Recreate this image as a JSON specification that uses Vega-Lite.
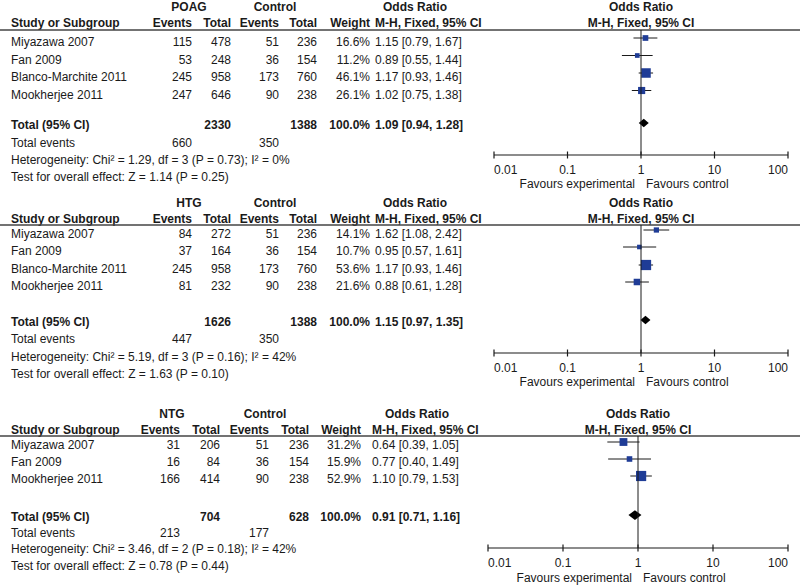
{
  "$schema": "https://vega.github.io/schema/vega-lite/v6.json",
  "width": 800,
  "height": 586,
  "autosize": {"type": "none"},
  "padding": 0,
  "background": "white",
  "config": {
    "view": {"stroke": null},
    "axis": {"disable": true},
    "text": {"font": "Liberation Sans", "fontSize": 12, "color": "#1a1a1a", "baseline": "middle"}
  },
  "datasets": {
    "rows": [
      {"panel": "POAG", "kind": "study", "line": 3, "label": "Miyazawa 2007", "e1": 115, "n1": 478, "e2": 51, "n2": 236, "w": 0.166, "or": 1.15, "lo": 0.79, "hi": 1.67, "ci": "1.15 [0.79, 1.67]"},
      {"panel": "POAG", "kind": "study", "line": 4, "label": "Fan 2009", "e1": 53, "n1": 248, "e2": 36, "n2": 154, "w": 0.112, "or": 0.89, "lo": 0.55, "hi": 1.44, "ci": "0.89 [0.55, 1.44]"},
      {"panel": "POAG", "kind": "study", "line": 5, "label": "Blanco-Marchite 2011", "e1": 245, "n1": 958, "e2": 173, "n2": 760, "w": 0.461, "or": 1.17, "lo": 0.93, "hi": 1.46, "ci": "1.17 [0.93, 1.46]"},
      {"panel": "POAG", "kind": "study", "line": 6, "label": "Mookherjee 2011", "e1": 247, "n1": 646, "e2": 90, "n2": 238, "w": 0.261, "or": 1.02, "lo": 0.75, "hi": 1.38, "ci": "1.02 [0.75, 1.38]"},
      {"panel": "POAG", "kind": "total", "line": 7, "label": "Total (95% CI)", "n1": 2330, "n2": 1388, "w": 1.0, "or": 1.09, "lo": 0.94, "hi": 1.28, "ci": "1.09 [0.94, 1.28]"},
      {"panel": "POAG", "kind": "events", "line": 8, "label": "Total events", "e1": 660, "e2": 350},
      {"panel": "POAG", "kind": "het", "line": 10, "label": "Heterogeneity: Chi² = 1.29, df = 3 (P = 0.73); I² = 0%"},
      {"panel": "POAG", "kind": "test", "line": 12, "label": "Test for overall effect: Z = 1.14 (P = 0.25)"},
      {"panel": "HTG", "kind": "study", "line": 17, "label": "Miyazawa 2007", "e1": 84, "n1": 272, "e2": 51, "n2": 236, "w": 0.141, "or": 1.62, "lo": 1.08, "hi": 2.42, "ci": "1.62 [1.08, 2.42]"},
      {"panel": "HTG", "kind": "study", "line": 18, "label": "Fan 2009", "e1": 37, "n1": 164, "e2": 36, "n2": 154, "w": 0.107, "or": 0.95, "lo": 0.57, "hi": 1.61, "ci": "0.95 [0.57, 1.61]"},
      {"panel": "HTG", "kind": "study", "line": 19, "label": "Blanco-Marchite 2011", "e1": 245, "n1": 958, "e2": 173, "n2": 760, "w": 0.536, "or": 1.17, "lo": 0.93, "hi": 1.46, "ci": "1.17 [0.93, 1.46]"},
      {"panel": "HTG", "kind": "study", "line": 20, "label": "Mookherjee 2011", "e1": 81, "n1": 232, "e2": 90, "n2": 238, "w": 0.216, "or": 0.88, "lo": 0.61, "hi": 1.28, "ci": "0.88 [0.61, 1.28]"},
      {"panel": "HTG", "kind": "total", "line": 21, "label": "Total (95% CI)", "n1": 1626, "n2": 1388, "w": 1.0, "or": 1.15, "lo": 0.97, "hi": 1.35, "ci": "1.15 [0.97, 1.35]"},
      {"panel": "HTG", "kind": "events", "line": 22, "label": "Total events", "e1": 447, "e2": 350},
      {"panel": "HTG", "kind": "het", "line": 24, "label": "Heterogeneity: Chi² = 5.19, df = 3 (P = 0.16); I² = 42%"},
      {"panel": "HTG", "kind": "test", "line": 26, "label": "Test for overall effect: Z = 1.63 (P = 0.10)"},
      {"panel": "NTG", "kind": "study", "line": 31, "label": "Miyazawa 2007", "e1": 31, "n1": 206, "e2": 51, "n2": 236, "w": 0.312, "or": 0.64, "lo": 0.39, "hi": 1.05, "ci": "0.64 [0.39, 1.05]"},
      {"panel": "NTG", "kind": "study", "line": 32, "label": "Fan 2009", "e1": 16, "n1": 84, "e2": 36, "n2": 154, "w": 0.159, "or": 0.77, "lo": 0.40, "hi": 1.49, "ci": "0.77 [0.40, 1.49]"},
      {"panel": "NTG", "kind": "study", "line": 33, "label": "Mookherjee 2011", "e1": 166, "n1": 414, "e2": 90, "n2": 238, "w": 0.529, "or": 1.10, "lo": 0.79, "hi": 1.53, "ci": "1.10 [0.79, 1.53]"},
      {"panel": "NTG", "kind": "total", "line": 34, "label": "Total (95% CI)", "n1": 704, "n2": 628, "w": 1.0, "or": 0.91, "lo": 0.71, "hi": 1.16, "ci": "0.91 [0.71, 1.16]"},
      {"panel": "NTG", "kind": "events", "line": 35, "label": "Total events", "e1": 213, "e2": 177},
      {"panel": "NTG", "kind": "het", "line": 37, "label": "Heterogeneity: Chi² = 3.46, df = 2 (P = 0.18); I² = 42%"},
      {"panel": "NTG", "kind": "test", "line": 39, "label": "Test for overall effect: Z = 0.78 (P = 0.44)"}
    ],
    "headers": [
      {"panel": "POAG", "line": 0, "col": 1, "label": "POAG"},
      {"panel": "POAG", "line": 0, "col": 4, "label": "Control"},
      {"panel": "POAG", "line": 0, "col": 9, "label": "Odds Ratio"},
      {"panel": "POAG", "line": 0, "col": 10, "label": "Odds Ratio"},
      {"panel": "POAG", "line": 1, "col": 0, "label": "Study or Subgroup"},
      {"panel": "POAG", "line": 1, "col": 2, "label": "Events"},
      {"panel": "POAG", "line": 1, "col": 3, "label": "Total"},
      {"panel": "POAG", "line": 1, "col": 5, "label": "Events"},
      {"panel": "POAG", "line": 1, "col": 6, "label": "Total"},
      {"panel": "POAG", "line": 1, "col": 7, "label": "Weight"},
      {"panel": "POAG", "line": 1, "col": 8, "label": "M-H, Fixed, 95% CI"},
      {"panel": "POAG", "line": 1, "col": 10, "label": "M-H, Fixed, 95% CI"},
      {"panel": "HTG", "line": 14, "col": 1, "label": "HTG"},
      {"panel": "HTG", "line": 14, "col": 4, "label": "Control"},
      {"panel": "HTG", "line": 14, "col": 9, "label": "Odds Ratio"},
      {"panel": "HTG", "line": 14, "col": 10, "label": "Odds Ratio"},
      {"panel": "HTG", "line": 15, "col": 0, "label": "Study or Subgroup"},
      {"panel": "HTG", "line": 15, "col": 2, "label": "Events"},
      {"panel": "HTG", "line": 15, "col": 3, "label": "Total"},
      {"panel": "HTG", "line": 15, "col": 5, "label": "Events"},
      {"panel": "HTG", "line": 15, "col": 6, "label": "Total"},
      {"panel": "HTG", "line": 15, "col": 7, "label": "Weight"},
      {"panel": "HTG", "line": 15, "col": 8, "label": "M-H, Fixed, 95% CI"},
      {"panel": "HTG", "line": 15, "col": 10, "label": "M-H, Fixed, 95% CI"},
      {"panel": "NTG", "line": 28, "col": 1, "label": "NTG"},
      {"panel": "NTG", "line": 28, "col": 4, "label": "Control"},
      {"panel": "NTG", "line": 28, "col": 9, "label": "Odds Ratio"},
      {"panel": "NTG", "line": 28, "col": 10, "label": "Odds Ratio"},
      {"panel": "NTG", "line": 29, "col": 0, "label": "Study or Subgroup"},
      {"panel": "NTG", "line": 29, "col": 2, "label": "Events"},
      {"panel": "NTG", "line": 29, "col": 3, "label": "Total"},
      {"panel": "NTG", "line": 29, "col": 5, "label": "Events"},
      {"panel": "NTG", "line": 29, "col": 6, "label": "Total"},
      {"panel": "NTG", "line": 29, "col": 7, "label": "Weight"},
      {"panel": "NTG", "line": 29, "col": 8, "label": "M-H, Fixed, 95% CI"},
      {"panel": "NTG", "line": 29, "col": 10, "label": "M-H, Fixed, 95% CI"}
    ],
    "ticks": [
      {"v": 0.01, "label": "0.01"},
      {"v": 0.1, "label": "0.1"},
      {"v": 1, "label": "1"},
      {"v": 10, "label": "10"},
      {"v": 100, "label": "100"}
    ]
  },
  "resolve": {"scale": {"x": "independent"}},
  "layer": [
    {
      "data": {"name": "rows"},
      "transform": [{"filter": "datum.panel != 'NTG'"}],
      "mark": {"type": "text", "align": "left", "fontWeight": {"expr": "datum.kind == 'total' ? 'bold' : 'normal'"}},
      "encoding": {
        "x": {"datum": 0, "type": "quantitative", "scale": {"type": "linear", "domain": [0,1,2,3,4,5,6,7,8,9], "range": [11,189,192,231,275,279,317,370,375,415], "zero": false, "nice": false}},
        "y": {"field": "line", "type": "quantitative", "axis": null, "scale": {"type": "linear", "zero": false, "nice": false, "domain": [0,1,2,3,4,5,6,7,8,9,10,11,12,13,14,15,16,17,18,19,20,21,22,23,24,25,26,27,28,29,30,31,32,33,34,35,36,37,38,39,40], "range": [7,23,30,42,59.5,77,94.5,125,143,155,160,170,177,184,203,219,225,234,251,269,286,322,339,353,357,368,374,382,414,430,436,445,462,479,517,533,548,549,563,566,578]}},
        "text": {"field": "label"}
      }
    },
    {
      "data": {"name": "rows"},
      "transform": [{"filter": "datum.panel != 'NTG' && isValid(datum.e1)"}],
      "mark": {"type": "text", "align": "right"},
      "encoding": {
        "x": {"datum": 2, "type": "quantitative", "scale": {"type": "linear", "domain": [0,1,2,3,4,5,6,7,8,9], "range": [11,189,192,231,275,279,317,370,375,415], "zero": false, "nice": false}},
        "y": {"field": "line", "type": "quantitative"},
        "text": {"field": "e1", "type": "quantitative", "format": "d"}
      }
    },
    {
      "data": {"name": "rows"},
      "transform": [{"filter": "datum.panel != 'NTG' && isValid(datum.n1)"}],
      "mark": {"type": "text", "align": "right", "fontWeight": {"expr": "datum.kind == 'total' ? 'bold' : 'normal'"}},
      "encoding": {
        "x": {"datum": 3, "type": "quantitative", "scale": {"type": "linear", "domain": [0,1,2,3,4,5,6,7,8,9], "range": [11,189,192,231,275,279,317,370,375,415], "zero": false, "nice": false}},
        "y": {"field": "line", "type": "quantitative"},
        "text": {"field": "n1", "type": "quantitative", "format": "d"}
      }
    },
    {
      "data": {"name": "rows"},
      "transform": [{"filter": "datum.panel != 'NTG' && isValid(datum.e2)"}],
      "mark": {"type": "text", "align": "right"},
      "encoding": {
        "x": {"datum": 5, "type": "quantitative", "scale": {"type": "linear", "domain": [0,1,2,3,4,5,6,7,8,9], "range": [11,189,192,231,275,279,317,370,375,415], "zero": false, "nice": false}},
        "y": {"field": "line", "type": "quantitative"},
        "text": {"field": "e2", "type": "quantitative", "format": "d"}
      }
    },
    {
      "data": {"name": "rows"},
      "transform": [{"filter": "datum.panel != 'NTG' && isValid(datum.n2)"}],
      "mark": {"type": "text", "align": "right", "fontWeight": {"expr": "datum.kind == 'total' ? 'bold' : 'normal'"}},
      "encoding": {
        "x": {"datum": 6, "type": "quantitative", "scale": {"type": "linear", "domain": [0,1,2,3,4,5,6,7,8,9], "range": [11,189,192,231,275,279,317,370,375,415], "zero": false, "nice": false}},
        "y": {"field": "line", "type": "quantitative"},
        "text": {"field": "n2", "type": "quantitative", "format": "d"}
      }
    },
    {
      "data": {"name": "rows"},
      "transform": [{"filter": "datum.panel != 'NTG' && isValid(datum.w)"}],
      "mark": {"type": "text", "align": "right", "fontWeight": {"expr": "datum.kind == 'total' ? 'bold' : 'normal'"}},
      "encoding": {
        "x": {"datum": 7, "type": "quantitative", "scale": {"type": "linear", "domain": [0,1,2,3,4,5,6,7,8,9], "range": [11,189,192,231,275,279,317,370,375,415], "zero": false, "nice": false}},
        "y": {"field": "line", "type": "quantitative"},
        "text": {"field": "w", "type": "quantitative", "format": ".1%"}
      }
    },
    {
      "data": {"name": "rows"},
      "transform": [{"filter": "datum.panel != 'NTG' && isValid(datum.ci)"}],
      "mark": {"type": "text", "align": "left", "fontWeight": {"expr": "datum.kind == 'total' ? 'bold' : 'normal'"}},
      "encoding": {
        "x": {"datum": 8, "type": "quantitative", "scale": {"type": "linear", "domain": [0,1,2,3,4,5,6,7,8,9], "range": [11,189,192,231,275,279,317,370,375,415], "zero": false, "nice": false}},
        "y": {"field": "line", "type": "quantitative"},
        "text": {"field": "ci"}
      }
    },
    {
      "data": {"name": "headers"},
      "transform": [{"filter": "datum.panel != 'NTG' && datum.col < 10"}],
      "mark": {"type": "text", "fontWeight": "bold", "align": {"expr": "(datum.col == 0 || datum.col == 8) ? 'left' : (datum.col == 1 || datum.col == 4 || datum.col == 9) ? 'center' : 'right'"}},
      "encoding": {
        "x": {"field": "col", "type": "quantitative", "scale": {"type": "linear", "domain": [0,1,2,3,4,5,6,7,8,9], "range": [11,189,192,231,275,279,317,370,375,415], "zero": false, "nice": false}},
        "y": {"field": "line", "type": "quantitative"},
        "text": {"field": "label"}
      }
    },
    {
      "data": {"name": "headers"},
      "transform": [{"filter": "datum.panel != 'NTG' && datum.col == 10"}],
      "mark": {"type": "text", "fontWeight": "bold", "align": "center"},
      "encoding": {
        "x": {"datum": 1, "type": "quantitative", "scale": {"type": "log", "domain": [0.01, 100], "range": [494, 788]}},
        "y": {"field": "line", "type": "quantitative"},
        "text": {"field": "label"}
      }
    },
    {
      "data": {"name": "rows"},
      "transform": [{"filter": "datum.panel != 'NTG' && datum.kind == 'study'"}],
      "mark": {"type": "rule", "color": "#1a1a1a", "strokeWidth": 1, "yOffset": -4},
      "encoding": {
        "x": {"field": "lo", "type": "quantitative", "scale": {"type": "log", "domain": [0.01, 100], "range": [494, 788]}},
        "x2": {"field": "hi"},
        "y": {"field": "line", "type": "quantitative"}
      }
    },
    {
      "data": {"name": "rows"},
      "transform": [{"filter": "datum.panel != 'NTG' && datum.kind == 'study'"}],
      "mark": {"type": "point", "shape": "square", "filled": true, "color": "#1f3c96", "opacity": 1, "yOffset": -4},
      "encoding": {
        "x": {"field": "or", "type": "quantitative", "scale": {"type": "log", "domain": [0.01, 100], "range": [494, 788]}},
        "y": {"field": "line", "type": "quantitative"},
        "size": {"field": "w", "type": "quantitative", "scale": {"type": "linear", "domain": [0, 1], "range": [0, 196]}, "legend": null}
      }
    },
    {
      "data": {"name": "rows"},
      "transform": [{"filter": "datum.panel != 'NTG' && datum.kind == 'total'"}],
      "mark": {"type": "point", "shape": "M-1,0L0,-0.85L1,0L0,0.85Z", "filled": true, "color": "#000000", "opacity": 1, "size": 100, "yOffset": -2},
      "encoding": {
        "x": {"field": "or", "type": "quantitative", "scale": {"type": "log", "domain": [0.01, 100], "range": [494, 788]}},
        "y": {"field": "line", "type": "quantitative"}
      }
    },
    {
      "data": {"values": [{}]},
      "mark": {"type": "rule", "color": "#444444", "strokeWidth": 1.5},
      "encoding": {"y": {"datum": 2, "type": "quantitative"}}
    },
    {
      "data": {"values": [{}]},
      "mark": {"type": "rule", "color": "#1a1a1a", "strokeWidth": 1},
      "encoding": {
        "x": {"datum": 1, "type": "quantitative", "scale": {"type": "log", "domain": [0.01, 100], "range": [494, 788]}},
        "y": {"datum": 2, "type": "quantitative"},
        "y2": {"datum": 9}
      }
    },
    {
      "data": {"values": [{}]},
      "mark": {"type": "rule", "color": "#1a1a1a", "strokeWidth": 1.2},
      "encoding": {
        "x": {"datum": 0.01, "type": "quantitative", "scale": {"type": "log", "domain": [0.01, 100], "range": [494, 788]}},
        "x2": {"datum": 100},
        "y": {"datum": 9, "type": "quantitative"}
      }
    },
    {
      "data": {"name": "ticks"},
      "mark": {"type": "point", "shape": "M0,-1L0,1", "filled": false, "color": "#1a1a1a", "strokeWidth": 1.2, "size": 49, "opacity": 1},
      "encoding": {
        "x": {"field": "v", "type": "quantitative", "scale": {"type": "log", "domain": [0.01, 100], "range": [494, 788]}},
        "y": {"datum": 9, "type": "quantitative"}
      }
    },
    {
      "data": {"name": "ticks"},
      "mark": {"type": "text", "align": {"expr": "datum.v == 0.01 ? 'left' : datum.v == 100 ? 'right' : 'center'"}},
      "encoding": {
        "x": {"field": "v", "type": "quantitative", "scale": {"type": "log", "domain": [0.01, 100], "range": [494, 788]}},
        "y": {"datum": 11, "type": "quantitative"},
        "text": {"field": "label"}
      }
    },
    {
      "data": {"values": [{}]},
      "mark": {"type": "text", "align": "right", "dx": -6},
      "encoding": {
        "x": {"datum": 1, "type": "quantitative", "scale": {"type": "log", "domain": [0.01, 100], "range": [494, 788]}},
        "y": {"datum": 13, "type": "quantitative"},
        "text": {"value": "Favours experimental"}
      }
    },
    {
      "data": {"values": [{}]},
      "mark": {"type": "text", "align": "left", "dx": 5},
      "encoding": {
        "x": {"datum": 1, "type": "quantitative", "scale": {"type": "log", "domain": [0.01, 100], "range": [494, 788]}},
        "y": {"datum": 13, "type": "quantitative"},
        "text": {"value": "Favours control"}
      }
    },
    {
      "data": {"values": [{}]},
      "mark": {"type": "rule", "color": "#444444", "strokeWidth": 1.5},
      "encoding": {"y": {"datum": 16, "type": "quantitative"}}
    },
    {
      "data": {"values": [{}]},
      "mark": {"type": "rule", "color": "#1a1a1a", "strokeWidth": 1},
      "encoding": {
        "x": {"datum": 1, "type": "quantitative", "scale": {"type": "log", "domain": [0.01, 100], "range": [494, 788]}},
        "y": {"datum": 16, "type": "quantitative"},
        "y2": {"datum": 23}
      }
    },
    {
      "data": {"values": [{}]},
      "mark": {"type": "rule", "color": "#1a1a1a", "strokeWidth": 1.2},
      "encoding": {
        "x": {"datum": 0.01, "type": "quantitative", "scale": {"type": "log", "domain": [0.01, 100], "range": [494, 788]}},
        "x2": {"datum": 100},
        "y": {"datum": 23, "type": "quantitative"}
      }
    },
    {
      "data": {"name": "ticks"},
      "mark": {"type": "point", "shape": "M0,-1L0,1", "filled": false, "color": "#1a1a1a", "strokeWidth": 1.2, "size": 49, "opacity": 1},
      "encoding": {
        "x": {"field": "v", "type": "quantitative", "scale": {"type": "log", "domain": [0.01, 100], "range": [494, 788]}},
        "y": {"datum": 23, "type": "quantitative"}
      }
    },
    {
      "data": {"name": "ticks"},
      "mark": {"type": "text", "align": {"expr": "datum.v == 0.01 ? 'left' : datum.v == 100 ? 'right' : 'center'"}},
      "encoding": {
        "x": {"field": "v", "type": "quantitative", "scale": {"type": "log", "domain": [0.01, 100], "range": [494, 788]}},
        "y": {"datum": 25, "type": "quantitative"},
        "text": {"field": "label"}
      }
    },
    {
      "data": {"values": [{}]},
      "mark": {"type": "text", "align": "right", "dx": -6},
      "encoding": {
        "x": {"datum": 1, "type": "quantitative", "scale": {"type": "log", "domain": [0.01, 100], "range": [494, 788]}},
        "y": {"datum": 27, "type": "quantitative"},
        "text": {"value": "Favours experimental"}
      }
    },
    {
      "data": {"values": [{}]},
      "mark": {"type": "text", "align": "left", "dx": 5},
      "encoding": {
        "x": {"datum": 1, "type": "quantitative", "scale": {"type": "log", "domain": [0.01, 100], "range": [494, 788]}},
        "y": {"datum": 27, "type": "quantitative"},
        "text": {"value": "Favours control"}
      }
    },
    {
      "data": {"name": "rows"},
      "transform": [{"filter": "datum.panel == 'NTG'"}],
      "mark": {"type": "text", "align": "left", "fontWeight": {"expr": "datum.kind == 'total' ? 'bold' : 'normal'"}},
      "encoding": {
        "x": {"datum": 0, "type": "quantitative", "scale": {"type": "linear", "domain": [0,1,2,3,4,5,6,7,8,9], "range": [11,172,180,220,265,269,309,361,372,417], "zero": false, "nice": false}},
        "y": {"field": "line", "type": "quantitative"},
        "text": {"field": "label"}
      }
    },
    {
      "data": {"name": "rows"},
      "transform": [{"filter": "datum.panel == 'NTG' && isValid(datum.e1)"}],
      "mark": {"type": "text", "align": "right"},
      "encoding": {
        "x": {"datum": 2, "type": "quantitative", "scale": {"type": "linear", "domain": [0,1,2,3,4,5,6,7,8,9], "range": [11,172,180,220,265,269,309,361,372,417], "zero": false, "nice": false}},
        "y": {"field": "line", "type": "quantitative"},
        "text": {"field": "e1", "type": "quantitative", "format": "d"}
      }
    },
    {
      "data": {"name": "rows"},
      "transform": [{"filter": "datum.panel == 'NTG' && isValid(datum.n1)"}],
      "mark": {"type": "text", "align": "right", "fontWeight": {"expr": "datum.kind == 'total' ? 'bold' : 'normal'"}},
      "encoding": {
        "x": {"datum": 3, "type": "quantitative", "scale": {"type": "linear", "domain": [0,1,2,3,4,5,6,7,8,9], "range": [11,172,180,220,265,269,309,361,372,417], "zero": false, "nice": false}},
        "y": {"field": "line", "type": "quantitative"},
        "text": {"field": "n1", "type": "quantitative", "format": "d"}
      }
    },
    {
      "data": {"name": "rows"},
      "transform": [{"filter": "datum.panel == 'NTG' && isValid(datum.e2)"}],
      "mark": {"type": "text", "align": "right"},
      "encoding": {
        "x": {"datum": 5, "type": "quantitative", "scale": {"type": "linear", "domain": [0,1,2,3,4,5,6,7,8,9], "range": [11,172,180,220,265,269,309,361,372,417], "zero": false, "nice": false}},
        "y": {"field": "line", "type": "quantitative"},
        "text": {"field": "e2", "type": "quantitative", "format": "d"}
      }
    },
    {
      "data": {"name": "rows"},
      "transform": [{"filter": "datum.panel == 'NTG' && isValid(datum.n2)"}],
      "mark": {"type": "text", "align": "right", "fontWeight": {"expr": "datum.kind == 'total' ? 'bold' : 'normal'"}},
      "encoding": {
        "x": {"datum": 6, "type": "quantitative", "scale": {"type": "linear", "domain": [0,1,2,3,4,5,6,7,8,9], "range": [11,172,180,220,265,269,309,361,372,417], "zero": false, "nice": false}},
        "y": {"field": "line", "type": "quantitative"},
        "text": {"field": "n2", "type": "quantitative", "format": "d"}
      }
    },
    {
      "data": {"name": "rows"},
      "transform": [{"filter": "datum.panel == 'NTG' && isValid(datum.w)"}],
      "mark": {"type": "text", "align": "right", "fontWeight": {"expr": "datum.kind == 'total' ? 'bold' : 'normal'"}},
      "encoding": {
        "x": {"datum": 7, "type": "quantitative", "scale": {"type": "linear", "domain": [0,1,2,3,4,5,6,7,8,9], "range": [11,172,180,220,265,269,309,361,372,417], "zero": false, "nice": false}},
        "y": {"field": "line", "type": "quantitative"},
        "text": {"field": "w", "type": "quantitative", "format": ".1%"}
      }
    },
    {
      "data": {"name": "rows"},
      "transform": [{"filter": "datum.panel == 'NTG' && isValid(datum.ci)"}],
      "mark": {"type": "text", "align": "left", "fontWeight": {"expr": "datum.kind == 'total' ? 'bold' : 'normal'"}},
      "encoding": {
        "x": {"datum": 8, "type": "quantitative", "scale": {"type": "linear", "domain": [0,1,2,3,4,5,6,7,8,9], "range": [11,172,180,220,265,269,309,361,372,417], "zero": false, "nice": false}},
        "y": {"field": "line", "type": "quantitative"},
        "text": {"field": "ci"}
      }
    },
    {
      "data": {"name": "headers"},
      "transform": [{"filter": "datum.panel == 'NTG' && datum.col < 10"}],
      "mark": {"type": "text", "fontWeight": "bold", "align": {"expr": "(datum.col == 0 || datum.col == 8) ? 'left' : (datum.col == 1 || datum.col == 4 || datum.col == 9) ? 'center' : 'right'"}},
      "encoding": {
        "x": {"field": "col", "type": "quantitative", "scale": {"type": "linear", "domain": [0,1,2,3,4,5,6,7,8,9], "range": [11,172,180,220,265,269,309,361,372,417], "zero": false, "nice": false}},
        "y": {"field": "line", "type": "quantitative"},
        "text": {"field": "label"}
      }
    },
    {
      "data": {"name": "headers"},
      "transform": [{"filter": "datum.panel == 'NTG' && datum.col == 10"}],
      "mark": {"type": "text", "fontWeight": "bold", "align": "center"},
      "encoding": {
        "x": {"datum": 1, "type": "quantitative", "scale": {"type": "log", "domain": [0.01, 100], "range": [488, 788]}},
        "y": {"field": "line", "type": "quantitative"},
        "text": {"field": "label"}
      }
    },
    {
      "data": {"name": "rows"},
      "transform": [{"filter": "datum.panel == 'NTG' && datum.kind == 'study'"}],
      "mark": {"type": "rule", "color": "#1a1a1a", "strokeWidth": 1, "yOffset": -3},
      "encoding": {
        "x": {"field": "lo", "type": "quantitative", "scale": {"type": "log", "domain": [0.01, 100], "range": [488, 788]}},
        "x2": {"field": "hi"},
        "y": {"field": "line", "type": "quantitative"}
      }
    },
    {
      "data": {"name": "rows"},
      "transform": [{"filter": "datum.panel == 'NTG' && datum.kind == 'study'"}],
      "mark": {"type": "point", "shape": "square", "filled": true, "color": "#1f3c96", "opacity": 1, "yOffset": -3},
      "encoding": {
        "x": {"field": "or", "type": "quantitative", "scale": {"type": "log", "domain": [0.01, 100], "range": [488, 788]}},
        "y": {"field": "line", "type": "quantitative"},
        "size": {"field": "w", "type": "quantitative", "scale": {"type": "linear", "domain": [0, 1], "range": [0, 196]}, "legend": null}
      }
    },
    {
      "data": {"name": "rows"},
      "transform": [{"filter": "datum.panel == 'NTG' && datum.kind == 'total'"}],
      "mark": {"type": "point", "shape": "M-1,0L0,-0.75L1,0L0,0.75Z", "filled": true, "color": "#000000", "opacity": 1, "size": 169, "yOffset": -2},
      "encoding": {
        "x": {"field": "or", "type": "quantitative", "scale": {"type": "log", "domain": [0.01, 100], "range": [488, 788]}},
        "y": {"field": "line", "type": "quantitative"}
      }
    },
    {
      "data": {"values": [{}]},
      "mark": {"type": "rule", "color": "#444444", "strokeWidth": 1.5},
      "encoding": {"y": {"datum": 30, "type": "quantitative"}}
    },
    {
      "data": {"values": [{}]},
      "mark": {"type": "rule", "color": "#1a1a1a", "strokeWidth": 1},
      "encoding": {
        "x": {"datum": 1, "type": "quantitative", "scale": {"type": "log", "domain": [0.01, 100], "range": [488, 788]}},
        "y": {"datum": 30, "type": "quantitative"},
        "y2": {"datum": 36}
      }
    },
    {
      "data": {"values": [{}]},
      "mark": {"type": "rule", "color": "#1a1a1a", "strokeWidth": 1.2},
      "encoding": {
        "x": {"datum": 0.01, "type": "quantitative", "scale": {"type": "log", "domain": [0.01, 100], "range": [488, 788]}},
        "x2": {"datum": 100},
        "y": {"datum": 36, "type": "quantitative"}
      }
    },
    {
      "data": {"name": "ticks"},
      "mark": {"type": "point", "shape": "M0,-1L0,1", "filled": false, "color": "#1a1a1a", "strokeWidth": 1.2, "size": 49, "opacity": 1},
      "encoding": {
        "x": {"field": "v", "type": "quantitative", "scale": {"type": "log", "domain": [0.01, 100], "range": [488, 788]}},
        "y": {"datum": 36, "type": "quantitative"}
      }
    },
    {
      "data": {"name": "ticks"},
      "mark": {"type": "text", "align": {"expr": "datum.v == 0.01 ? 'left' : datum.v == 100 ? 'right' : 'center'"}},
      "encoding": {
        "x": {"field": "v", "type": "quantitative", "scale": {"type": "log", "domain": [0.01, 100], "range": [488, 788]}},
        "y": {"datum": 38, "type": "quantitative"},
        "text": {"field": "label"}
      }
    },
    {
      "data": {"values": [{}]},
      "mark": {"type": "text", "align": "right", "dx": -6},
      "encoding": {
        "x": {"datum": 1, "type": "quantitative", "scale": {"type": "log", "domain": [0.01, 100], "range": [488, 788]}},
        "y": {"datum": 40, "type": "quantitative"},
        "text": {"value": "Favours experimental"}
      }
    },
    {
      "data": {"values": [{}]},
      "mark": {"type": "text", "align": "left", "dx": 5},
      "encoding": {
        "x": {"datum": 1, "type": "quantitative", "scale": {"type": "log", "domain": [0.01, 100], "range": [488, 788]}},
        "y": {"datum": 40, "type": "quantitative"},
        "text": {"value": "Favours control"}
      }
    }
  ]
}
